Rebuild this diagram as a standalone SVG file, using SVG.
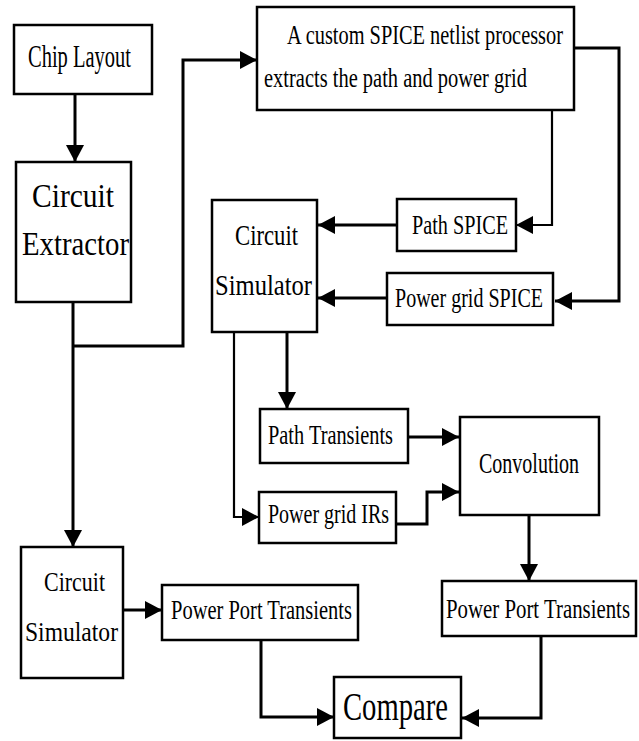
<svg xmlns="http://www.w3.org/2000/svg" width="639" height="741" viewBox="0 0 639 741">
<style>
.box{fill:#fff;stroke:#000;stroke-width:2.5}
.t{font-family:"Liberation Serif","Times New Roman",serif;fill:#000}
.c{fill:none;stroke:#000;stroke-width:3}
.thin{stroke-width:2.2}
</style>
<defs>
<marker id="ah" markerUnits="userSpaceOnUse" markerWidth="18" markerHeight="18" refX="17" refY="9" orient="auto">
<path d="M0,0 L17,9 L0,18 Z" fill="#000"/>
</marker>
</defs>
<rect width="639" height="741" fill="#fff"/>
<g id="connectors">
<path class="c" d="M75,94 V162" marker-end="url(#ah)"/>
<path class="c" d="M73,302 V547" marker-end="url(#ah)"/>
<path class="c" d="M73,346 H183 V60 H257" marker-end="url(#ah)"/>
<path class="c thin" d="M552,110 V225 H516" marker-end="url(#ah)"/>
<path class="c" d="M574,48 H619 V301 H555" marker-end="url(#ah)"/>
<path class="c" d="M397,225 H318" marker-end="url(#ah)"/>
<path class="c" d="M387,298 H318" marker-end="url(#ah)"/>
<path class="c" d="M287,332 V409" marker-end="url(#ah)"/>
<path class="c thin" d="M234,332 V517 H259" marker-end="url(#ah)"/>
<path class="c" d="M408,437 H459" marker-end="url(#ah)"/>
<path class="c" d="M396,524 H427 V492 H459" marker-end="url(#ah)"/>
<path class="c" d="M529,515 V581" marker-end="url(#ah)"/>
<path class="c" d="M123,610 H162" marker-end="url(#ah)"/>
<path class="c" d="M261,640 V717 H334" marker-end="url(#ah)"/>
<path class="c" d="M541,636 V718 H462" marker-end="url(#ah)"/>
</g>
<g id="chip-layout">
<rect class="box" x="14" y="25" width="138" height="69"/>
<text class="t" x="28" y="67" font-size="31" textLength="103" lengthAdjust="spacingAndGlyphs">Chip Layout</text>
</g>
<g id="circuit-extractor">
<rect class="box" x="16" y="162" width="115" height="140"/>
<text class="t" x="32" y="207" font-size="34" textLength="82" lengthAdjust="spacingAndGlyphs">Circuit</text>
<text class="t" x="22" y="255" font-size="34" textLength="107" lengthAdjust="spacingAndGlyphs">Extractor</text>
</g>
<g id="spice-processor">
<rect class="box" x="257" y="7" width="317" height="103"/>
<text class="t" x="287" y="44" font-size="27" textLength="276" lengthAdjust="spacingAndGlyphs">A custom SPICE netlist processor</text>
<text class="t" x="264" y="87" font-size="27" textLength="263" lengthAdjust="spacingAndGlyphs">extracts the path and power grid</text>
</g>
<g id="path-spice">
<rect class="box" x="397" y="199" width="119" height="52"/>
<text class="t" x="412" y="234" font-size="28" textLength="96" lengthAdjust="spacingAndGlyphs">Path SPICE</text>
</g>
<g id="power-grid-spice">
<rect class="box" x="387" y="273" width="166" height="52"/>
<text class="t" x="395" y="307" font-size="28" textLength="148" lengthAdjust="spacingAndGlyphs">Power grid SPICE</text>
</g>
<g id="circuit-simulator-1">
<rect class="box" x="212" y="200" width="105" height="132"/>
<text class="t" x="235" y="245" font-size="29" textLength="63" lengthAdjust="spacingAndGlyphs">Circuit</text>
<text class="t" x="215" y="295" font-size="29" textLength="97" lengthAdjust="spacingAndGlyphs">Simulator</text>
</g>
<g id="path-transients">
<rect class="box" x="260" y="409" width="148" height="54"/>
<text class="t" x="268" y="444" font-size="28" textLength="125" lengthAdjust="spacingAndGlyphs">Path Transients</text>
</g>
<g id="power-grid-irs">
<rect class="box" x="259" y="492" width="137" height="51"/>
<text class="t" x="268" y="523" font-size="28" textLength="121" lengthAdjust="spacingAndGlyphs">Power grid IRs</text>
</g>
<g id="convolution">
<rect class="box" x="460" y="417" width="139" height="98"/>
<text class="t" x="479" y="473" font-size="30" textLength="100" lengthAdjust="spacingAndGlyphs">Convolution</text>
</g>
<g id="circuit-simulator-2">
<rect class="box" x="21" y="547" width="102" height="131"/>
<text class="t" x="44" y="591" font-size="28" textLength="61" lengthAdjust="spacingAndGlyphs">Circuit</text>
<text class="t" x="25" y="641" font-size="28" textLength="93" lengthAdjust="spacingAndGlyphs">Simulator</text>
</g>
<g id="power-port-transients-1">
<rect class="box" x="162" y="585" width="196" height="55"/>
<text class="t" x="171" y="619" font-size="28" textLength="181" lengthAdjust="spacingAndGlyphs">Power Port Transients</text>
</g>
<g id="power-port-transients-2">
<rect class="box" x="442" y="581" width="194" height="55"/>
<text class="t" x="446" y="618" font-size="28" textLength="184" lengthAdjust="spacingAndGlyphs">Power Port Transients</text>
</g>
<g id="compare">
<rect class="box" x="334" y="677" width="127" height="61"/>
<text class="t" x="343" y="720" font-size="41" textLength="105" lengthAdjust="spacingAndGlyphs">Compare</text>
</g>
</svg>
